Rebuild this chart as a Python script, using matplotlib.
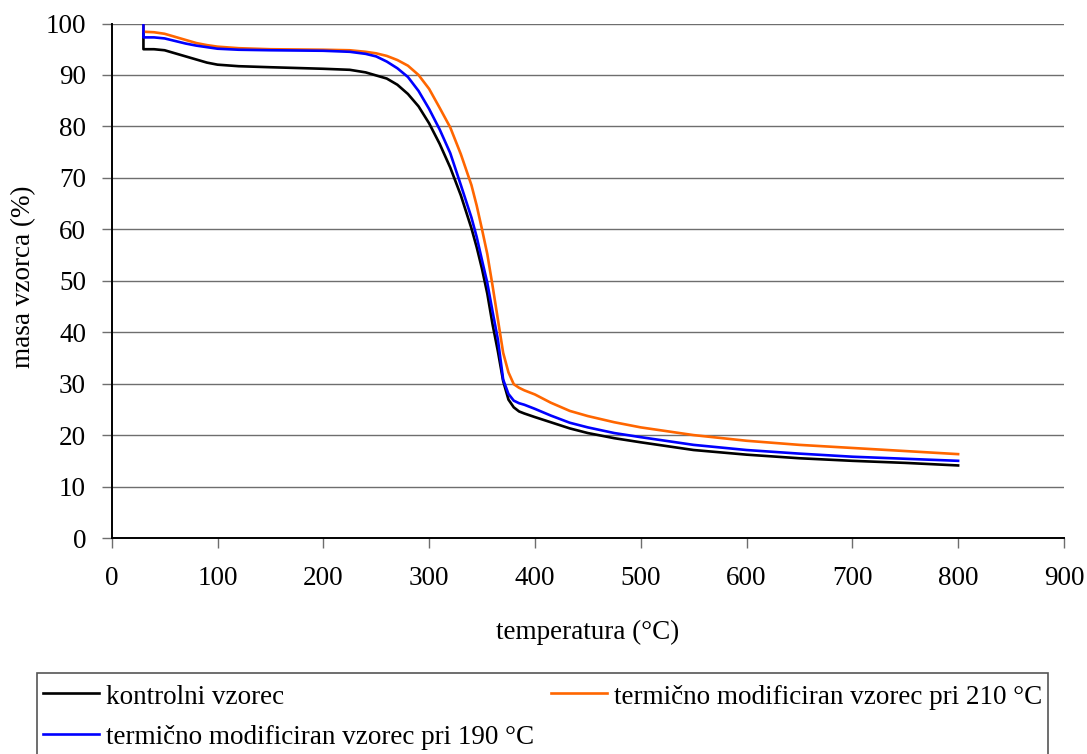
import matplotlib
matplotlib.use("Agg")
import matplotlib.pyplot as plt
from matplotlib.lines import Line2D
from matplotlib.patches import Rectangle

plt.rcParams['font.family'] = ['Liberation Serif', 'DejaVu Serif']

# Temperature grid (°C); the repeated 30 gives the initial vertical drop
temperature = [30, 30, 40, 50, 60, 70, 80, 90, 100, 120, 150, 200, 225, 240, 250,
               260, 270, 280, 290, 300, 310, 320, 330, 340, 345, 350, 355, 360,
               365, 370, 375, 380, 385, 390, 400, 415, 433, 450, 475, 500, 550,
               600, 650, 700, 750, 800]

# Sample mass (%)
kontrolni = [100, 95.0, 95.0, 94.8, 94.2, 93.6, 93.0, 92.4, 92.0, 91.7, 91.5, 91.2,
             91.0, 90.5, 89.9, 89.3, 88.1, 86.3, 83.9, 80.6, 76.6, 72.0, 66.6,
             60.2, 56.5, 52.3, 47.5, 41.5, 36.3, 30.5, 26.9, 25.4, 24.6, 24.2,
             23.5, 22.5, 21.3, 20.4, 19.4, 18.6, 17.1, 16.2, 15.5, 15.0, 14.6,
             14.1]

modif_190 = [100, 97.3, 97.3, 97.1, 96.6, 96.1, 95.7, 95.4, 95.1, 94.9, 94.8, 94.7,
             94.5, 94.1, 93.6, 92.6, 91.3, 89.6, 86.9, 83.4, 79.4, 74.8, 68.6,
             62.3, 58.5, 54.0, 49.6, 44.0, 38.6, 30.8, 28.0, 26.7, 26.2, 25.9,
             25.1, 23.8, 22.4, 21.5, 20.4, 19.6, 18.1, 17.1, 16.4, 15.8, 15.4,
             15.0]

modif_210 = [100, 98.4, 98.3, 98.0, 97.4, 96.8, 96.2, 95.8, 95.5, 95.2, 95.0, 94.9,
             94.8, 94.5, 94.2, 93.7, 92.9, 91.8, 90.0, 87.3, 83.6, 79.8, 74.6,
             68.6, 64.6, 60.0, 55.2, 49.0, 42.5, 36.0, 32.2, 29.9, 29.2, 28.7,
             27.9, 26.3, 24.7, 23.7, 22.5, 21.5, 20.0, 18.9, 18.1, 17.5, 16.9,
             16.3]

x_ticks = list(range(0, 901, 100))
y_ticks = list(range(0, 101, 10))

labels = ["kontrolni vzorec",
          "termično modificiran vzorec pri 190 °C",
          "termično modificiran vzorec pri 210 °C"]
colors = ["#000000", "#0000FF", "#FF6600"]
fs = 19.5

W, H = 1087, 754
fig = plt.figure(figsize=(W / 100, H / 100), dpi=100)
ax = fig.add_axes([111.7 / W, 1 - 538 / H, 952.2 / W, 514.5 / H])

for yv in y_ticks[1:]:
    ax.axhline(yv, color="#6e6e6e", lw=1.0, zorder=1)

ax.plot(temperature, kontrolni, color=colors[0], lw=1.9, zorder=2.5)
ax.plot(temperature, modif_210, color=colors[2], lw=1.9, zorder=3)
ax.plot(temperature, modif_190, color=colors[1], lw=1.9, zorder=4)

ax.set_xlim(0, 900)
ax.set_ylim(0, 100)
ax.set_xticks(x_ticks)
ax.set_yticks(y_ticks)
ax.tick_params(axis="both", direction="out", length=7.5, width=1.0,
               color="#6e6e6e", labelsize=fs)
ax.tick_params(axis="x", pad=13)
ax.tick_params(axis="y", pad=11)
for s in ("top", "right"):
    ax.spines[s].set_visible(False)
for s in ("left", "bottom"):
    ax.spines[s].set_color("black")
    ax.spines[s].set_linewidth(1.4)

fig.text(588 / W, 1 - 632 / H, "temperatura (°C)", ha="center", va="center",
         fontsize=fs)
fig.text(24 / W, 1 - 277 / H, "masa vzorca (%)", ha="center", va="center",
         rotation=90, fontsize=fs)

# Legend box, open at the lower edge of the figure
fig.add_artist(Rectangle((37 / W, -0.05), (1048 - 37) / W, 0.05 + 1 - 673 / H,
                         transform=fig.transFigure, facecolor="white",
                         edgecolor="#555555", lw=1.2))
entries = [(43, 693, 106, 697, 0), (43, 734, 106, 738, 1), (551, 693, 614, 697, 2)]
for x0, yl, xt, yt, i in entries:
    fig.add_artist(Line2D([x0 / W, (x0 + 56) / W], [1 - yl / H, 1 - yl / H],
                          transform=fig.transFigure, color=colors[i], lw=1.9))
    fig.text(xt / W, 1 - yt / H, labels[i], ha="left", va="center", fontsize=fs)

fig.savefig("out.png", dpi=100)
